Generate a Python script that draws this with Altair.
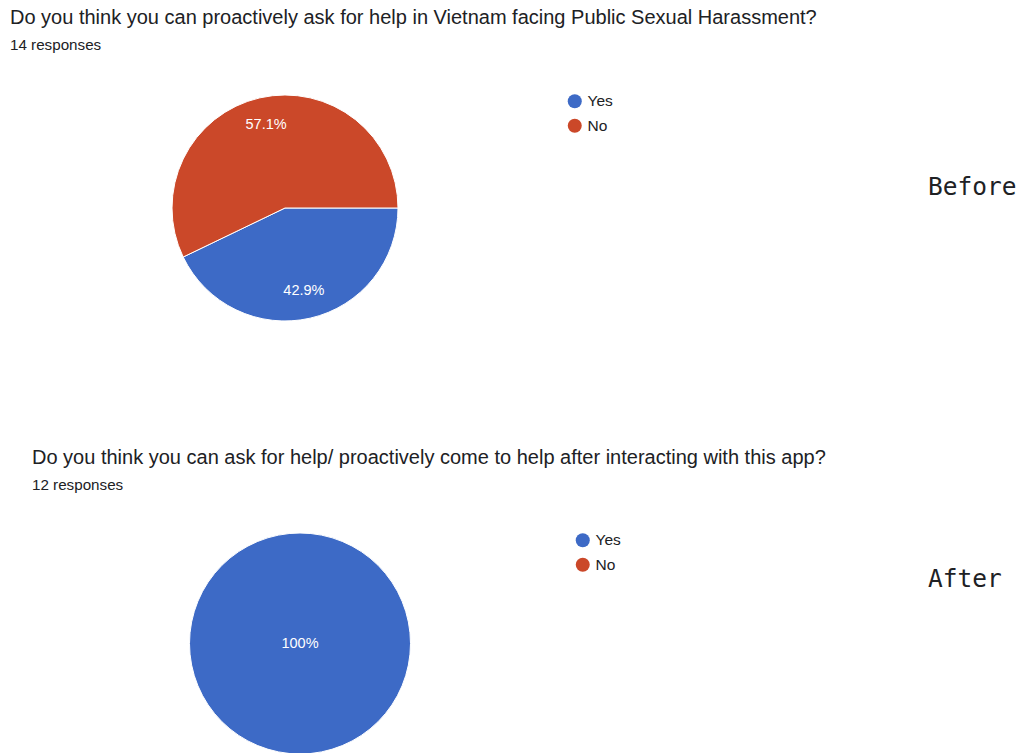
import altair as alt
import pandas as pd

answers = ["Yes", "No"]
before_counts = [6, 8]
after_counts = [12, 0]
before_title = "Do you think you can proactively ask for help in Vietnam facing Public Sexual Harassment?"
after_title = "Do you think you can ask for help/ proactively come to help after interacting with this app?"
before_sub = "14 responses"
after_sub = "12 responses"
before_tag = "Before"
after_tag = "After"
colors = ["#3d6ac6", "#cb4829"]

FONT = "Liberation Sans"
TWO_PI = 6.283185307179586
START = 1.5707963267948966


def panel(counts, title, sub, tag, h, tx, ty, cx, cy, r, lab_r, lx, ly, tag_y):
    df = pd.DataFrame({"answer": answers, "count": counts, "idx": list(range(len(answers)))})
    base = alt.Chart(df).transform_joinaggregate(
        total="sum(count)"
    ).transform_calculate(
        pct="datum.count / datum.total",
        label="datum.count == datum.total ? '100%' : format(datum.count / datum.total, '.1%')",
    )
    theta = alt.Theta("pct:Q", stack=True, scale=alt.Scale(domain=[0, 1], range=[START, START + TWO_PI]))
    arcs = base.transform_filter("datum.count > 0").mark_arc(
        radius=r, stroke="white", strokeWidth=1, clip=True
    ).encode(
        theta=theta,
        order=alt.Order("idx:Q"),
        color=alt.Color(
            "answer:N",
            scale=alt.Scale(domain=answers, range=colors),
            legend=alt.Legend(
                orient="none", legendX=lx, legendY=ly, title=None,
                symbolType="circle", symbolSize=196, symbolStrokeWidth=0,
                labelFontSize=15.5, labelFont=FONT, labelColor="#202124",
                labelOffset=5, rowPadding=7.5, padding=0,
            ),
        ),
        x=alt.value(cx),
        y=alt.value(cy),
    )
    full = max(counts) == sum(counts)
    labels = base.transform_filter("datum.count > 0").mark_text(
        radius=0 if full else lab_r, color="white", fontSize=14.5, font=FONT
    ).encode(
        theta=theta,
        order=alt.Order("idx:Q"),
        text="label:N",
        x=alt.value(cx),
        y=alt.value(cy),
    )
    t1 = alt.Chart(pd.DataFrame({"t": [title]})).mark_text(
        align="left", baseline="middle", fontSize=20, font=FONT, color="#202124"
    ).encode(text="t:N", x=alt.value(tx), y=alt.value(ty))
    t2 = alt.Chart(pd.DataFrame({"t": [sub]})).mark_text(
        align="left", baseline="middle", fontSize=15.2, font=FONT, color="#202124"
    ).encode(text="t:N", x=alt.value(tx), y=alt.value(ty + 27))
    t3 = alt.Chart(pd.DataFrame({"t": [tag]})).mark_text(
        align="left", baseline="middle", fontSize=24.5, font="DejaVu Sans Mono", color="#202124"
    ).encode(text="t:N", x=alt.value(928), y=alt.value(tag_y))
    return alt.layer(arcs, labels, t1, t2, t3).properties(width=1020, height=h)


top = panel(before_counts, before_title, before_sub, before_tag, 430,
            10, 18, 285, 208, 113, 85, 567, 93.5, 188)
bottom = panel(after_counts, after_title, after_sub, after_tag, 323,
               32, 28, 300, 213.5, 110.5, 85, 575, 102.5, 150)

chart = alt.vconcat(top, bottom, spacing=0).resolve_scale(
    color="independent", theta="independent"
).resolve_legend(color="independent").properties(
    padding=0, background="white"
).configure_view(stroke=None)

chart.save("out.html", embed_options={"renderer": "svg", "actions": False})
